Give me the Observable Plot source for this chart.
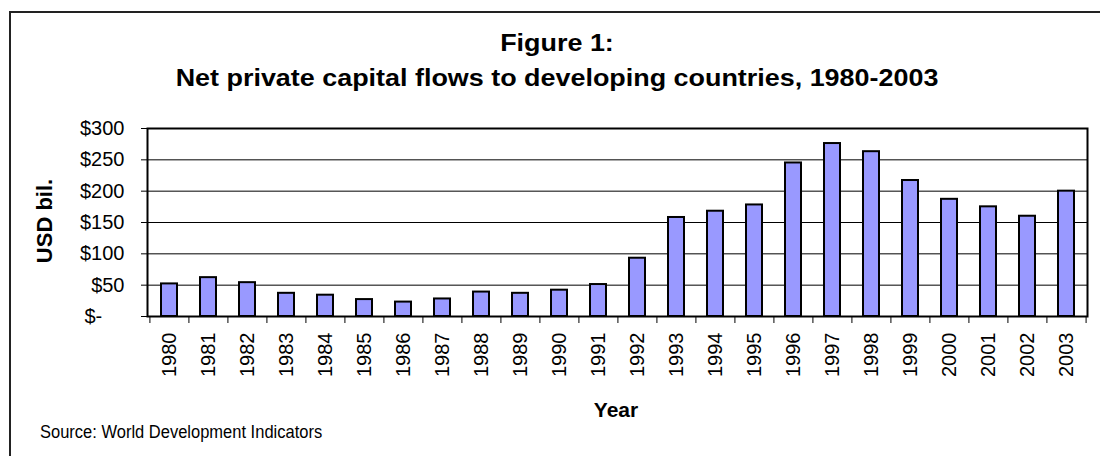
<!DOCTYPE html>
<html>
<head>
<meta charset="utf-8">
<script src="https://cdn.jsdelivr.net/npm/d3@7"></script>
<script src="https://cdn.jsdelivr.net/npm/@observablehq/plot@0.6"></script>
<style>
  html, body { margin: 0; padding: 0; background: #fff; }
  #wrap { position: relative; width: 1100px; height: 456px; overflow: hidden; font-family: "Liberation Sans", Arial, sans-serif; color: #000; }
  #frame { position: absolute; left: 9px; top: 11px; width: 1200px; height: 600px; border-left: 2px solid #222; border-top: 2px solid #222; }
  #chart { position: absolute; left: 0; top: 0; }
  .t { position: absolute; white-space: nowrap; }
  .title { font-weight: bold; font-size: 23px; line-height: 23px; left: 557px; transform: translateX(-50%) scaleX(1.17); }
  #ylab { font-weight: bold; font-size: 22px; line-height: 22px; left: 45px; top: 221px; transform: translate(-50%, -50%) rotate(-90deg); }
  #xlab { font-weight: bold; font-size: 21px; line-height: 21px; left: 616px; top: 399px; transform: translateX(-50%); }
  #source { font-size: 16.5px; line-height: 16.5px; left: 40px; top: 423px; transform-origin: 0 0; transform: scaleY(1.08); }
</style>
</head>
<body>
<div id="wrap">
  <div id="frame"></div>
  <div id="chart"></div>
  <div class="t title" style="top:32px">Figure 1:</div>
  <div class="t title" style="top:67px">Net private capital flows to developing countries, 1980-2003</div>
  <div class="t" id="ylab">USD bil.</div>
  <div class="t" id="xlab">Year</div>
  <div class="t" id="source">Source: World Development Indicators</div>
</div>
<script>
const years = ["1980","1981","1982","1983","1984","1985","1986","1987","1988","1989","1990","1991",
               "1992","1993","1994","1995","1996","1997","1998","1999","2000","2001","2002","2003"];
const flows = [52, 62, 54, 37, 34, 27, 23, 28, 39, 37, 42, 51,
               93, 158, 168, 178, 245, 276, 263, 217, 187, 175, 160, 200];
const yTicks = [0, 50, 100, 150, 200, 250, 300];
const yTickLabels = ["$-\u00a0\u00a0\u00a0\u00a0", "$50", "$100", "$150", "$200", "$250", "$300"];

const data = years.map((year, i) => ({year, value: flows[i]}));

const W = 1100, H = 456;
const mL = 147, mR = 13, mT = 128, mB = 140;
const step = (W - mL - mR) / years.length;

const chart = Plot.plot({
  width: W,
  height: H,
  marginLeft: mL,
  marginRight: mR,
  marginTop: mT,
  marginBottom: mB,
  style: {fontFamily: '"Liberation Sans", Arial, sans-serif', color: "#000", background: "transparent"},
  x: {domain: years, paddingInner: 0.6, paddingOuter: 0.3, axis: null},
  y: {domain: [0, 300], axis: null},
  marks: [
    Plot.ruleY(yTicks.slice(1, -1), {stroke: "#000", strokeWidth: 1}),
    Plot.barY(data, {x: "year", y: "value", fill: "#9999ff", stroke: "#000", strokeWidth: 2}),
    Plot.frame({stroke: "#000", strokeWidth: 2}),
    Plot.axisY(yTicks, {anchor: "left", label: null, tickSize: 6, tickPadding: 17, fontSize: 20,
      tickFormat: (d) => yTickLabels[yTicks.indexOf(d)]}),
    Plot.axisX(years, {anchor: "bottom", label: null, tickSize: 7, dx: -step / 2, tickFormat: () => "", strokeWidth: 1}),
    Plot.axisX([years[years.length - 1]], {anchor: "bottom", label: null, tickSize: 7, dx: step / 2, tickFormat: () => "", strokeWidth: 1}),
    Plot.axisX(years, {anchor: "bottom", label: null, tickSize: 0, tickPadding: 16, tickRotate: -90, fontSize: 20})
  ]
});
document.getElementById("chart").appendChild(chart);
</script>
</body>
</html>
